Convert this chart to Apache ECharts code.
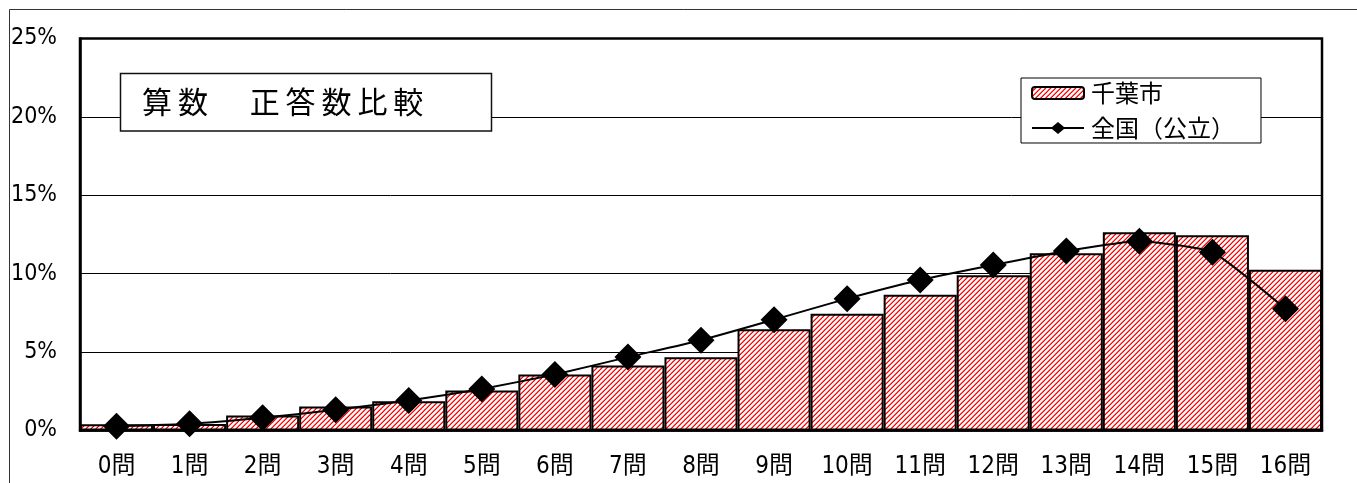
<!DOCTYPE html>
<html><head><meta charset="utf-8">
<script src="https://cdn.jsdelivr.net/npm/echarts@6/dist/echarts.min.js"></script>
<style>html,body{margin:0;padding:0;background:#fff;overflow:hidden}#c{width:1357px;height:483px}</style>
</head><body><div id="c"></div>
<script>
const categories = ['0問','1問','2問','3問','4問','5問','6問','7問','8問','9問','10問','11問','12問','13問','14問','15問','16問'];
const chibaValues = [0.40, 0.42, 0.96, 1.53, 1.87, 2.55, 3.57, 4.15, 4.67, 6.45, 7.45, 8.66, 9.90, 11.30, 12.65, 12.45, 10.25];
const zenkokuValues = [0.27, 0.43, 0.81, 1.32, 1.91, 2.65, 3.57, 4.68, 5.76, 7.07, 8.41, 9.60, 10.55, 11.45, 12.07, 11.37, 7.76];
const seriesNames = ['千葉市', '全国（公立）'];
const chartTitle = '算数　正答数比較';

function makePattern() {
  const n = 5;
  const c = document.createElement('canvas');
  c.width = n; c.height = n;
  const ctx = c.getContext('2d');
  const img = ctx.createImageData(n, n);
  for (let y = 0; y < n; y++) {
    for (let x = 0; x < n; x++) {
      const k = (x + y) % n;
      let col = [255, 255, 255];
      if (k === 4) col = [255, 0, 0];
      else if (k === 3) col = [255, 110, 110];
      else if (k === 0) col = [255, 210, 210];
      const i = (y * n + x) * 4;
      img.data[i] = col[0]; img.data[i + 1] = col[1]; img.data[i + 2] = col[2]; img.data[i + 3] = 255;
    }
  }
  ctx.putImageData(img, 0, 0);
  return c;
}

const CJK = '"Noto Sans CJK JP", sans-serif';
const NARROW = '"DejaVu Sans Condensed", "Noto Sans CJK JP", sans-serif';
const lineLegendIcon = 'path://M0,5H20L26,0L32,5H52V7H32L26,12L20,7H0Z';

const titleChars = Array.from(chartTitle).map((ch, i) => ({
  type: 'text',
  z: 101,
  style: { text: ch, x: 157 + i * 35.9, y: 102, align: 'center', verticalAlign: 'middle',
           font: '30px ' + CJK, fill: '#000' }
}));

const chart = echarts.init(document.getElementById('c'), null, { renderer: 'canvas' });
chart.setOption({
  animation: false,
  backgroundColor: '#fff',
  grid: { left: 80, right: 35, top: 38.5, bottom: 52.5, show: true, borderColor: '#000', borderWidth: 2.5, containLabel: false },
  legend: {
    orient: 'vertical', left: 1021, top: 78,
    itemWidth: 52, itemHeight: 12, itemGap: 11,
    padding: [3, 26, 3, 10],
    borderColor: '#000', borderWidth: 1, backgroundColor: '#fff',
    textStyle: { fontSize: 24, fontFamily: CJK, color: '#000', padding: [0, 0, 0, 2] },
    data: [
      { name: seriesNames[0] },
      { name: seriesNames[1], icon: lineLegendIcon, itemStyle: { color: '#000', borderWidth: 0 } }
    ]
  },
  xAxis: {
    type: 'category', data: categories,
    axisTick: { show: false },
    axisLine: { lineStyle: { color: '#000', width: 2.5 } },
    axisLabel: { interval: 0, fontSize: 24, fontFamily: NARROW, color: '#000', margin: 24 }
  },
  yAxis: {
    type: 'value', min: 0, max: 25, interval: 5,
    axisLine: { show: true, lineStyle: { color: '#000', width: 2.5 } },
    axisTick: { show: false },
    splitLine: { lineStyle: { color: '#000', width: 1 } },
    axisLabel: { formatter: '{value}%', fontSize: 23, fontFamily: NARROW, color: '#000', margin: 23 }
  },
  series: [
    {
      name: seriesNames[0], type: 'bar', data: chibaValues,
      barCategoryGap: '0%',
      itemStyle: { color: { image: makePattern(), repeat: 'repeat' }, borderColor: '#000', borderWidth: 2 }
    },
    {
      name: seriesNames[1], type: 'line', data: zenkokuValues,
      smooth: 0.15,
      symbol: 'diamond', symbolSize: 27,
      lineStyle: { color: '#000', width: 2 },
      itemStyle: { color: '#000' },
      z: 5
    }
  ],
  graphic: [
    { type: 'rect', z: 100, shape: { x: 9.5, y: 9.5, width: 1500, height: 600 }, style: { fill: 'none', stroke: '#333', lineWidth: 1 } },
    { type: 'rect', z: 100, shape: { x: 120.5, y: 73.5, width: 371, height: 57.5 }, style: { fill: '#fff', stroke: '#111', lineWidth: 1.5 } }
  ].concat(titleChars)
});
</script>
</body></html>
